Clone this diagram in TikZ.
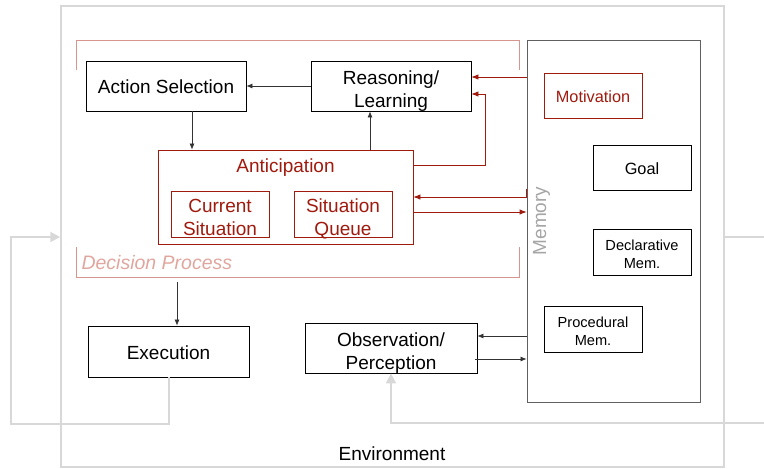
\documentclass[tikz,border=0pt]{standalone}
\usepackage{fontspec}
\setmainfont{Liberation Sans}
\usetikzlibrary{arrows.meta,shadows}

\definecolor{deepred}{RGB}{160,26,14}
\definecolor{salmon}{RGB}{214,150,142}
\definecolor{salmontext}{RGB}{224,166,158}
\definecolor{envgray}{RGB}{216,216,216}
\definecolor{memgray}{RGB}{96,96,96}
\definecolor{labelgray}{RGB}{165,165,165}

\tikzset{
  box/.style={draw=black, line width=0.8pt, fill=white, align=center,
    inner sep=0pt, font=\fontsize{19}{23}\selectfont,
    text height=15.5pt, text depth=0pt,
    drop shadow={shadow xshift=1.2pt, shadow yshift=-1.2pt, opacity=0.25}},
  twoline/.style={text height=42pt, text depth=0pt},
  redbox/.style={box, draw=deepred, text=deepred},
  smallbox/.style={box, font=\fontsize{14.6}{18}\selectfont,
    text height=33pt, text depth=0pt},
  midbox/.style={box, font=\fontsize{16.3}{20}\selectfont,
    text height=13.5pt, text depth=0pt},
  arr/.style={draw=black!80, line width=0.7pt, -{Latex[length=6pt,width=5pt]}},
  redarr/.style={draw=deepred, line width=0.8pt, -{Latex[length=7pt,width=5.5pt]}},
  envline/.style={draw=envgray, line width=2pt},
  envarr/.style={envline, -{Triangle[length=10pt,width=10pt]}},
  bracket/.style={draw=salmon, line width=1pt},
}

\begin{document}
\begin{tikzpicture}[x=1pt, y=-1pt]
\useasboundingbox (0,0) rectangle (764,469);

% environment frame
\node[draw=envgray, line width=1.5pt, minimum width=663pt, minimum height=461pt, inner sep=0pt]
  (env) at (392.5,236.5) {};
\node[font=\fontsize{19}{23}\selectfont] (envlabel) at (392,454) {Environment};

% decision process bracket
\draw[bracket] (76,70) -- (76,40) -- (519,40) -- (519,70);
\draw[bracket] (76,247) -- (76,277) -- (519,277) -- (519,247);
\node[anchor=west, text=salmontext, font=\fontsize{19.5}{23}\selectfont\itshape]
  (dplabel) at (78,263) {Decision Process};

% decision components
\node[box, minimum width=160pt, minimum height=50pt] (act) at (166,86) {Action Selection};
\node[box, twoline, minimum width=160pt, minimum height=50pt] (reas) at (391,86) {Reasoning/\\Learning};
\node[redbox, minimum width=255pt, minimum height=94pt] (antic) at (285.5,197) {};
\node[text=deepred, font=\fontsize{19}{23}\selectfont] (anticlabel) at (285.5,168) {Anticipation};
\node[redbox, twoline, minimum width=98pt, minimum height=46pt] (cur) at (220,214) {Current\\Situation};
\node[redbox, twoline, minimum width=98pt, minimum height=46pt] (que) at (343,214) {Situation\\Queue};

% memory
\node[box, draw=memgray, minimum width=173pt, minimum height=362pt] (mem) at (613.5,221) {};
\node[rotate=90, text=labelgray, font=\fontsize{19}{23}\selectfont] (memlabel) at (541.5,221) {Memory};
\node[midbox, draw=deepred, text=deepred, minimum width=98pt, minimum height=45pt] (mot) at (593,95.5) {Motivation};
\node[midbox, minimum width=98pt, minimum height=45pt] (goal) at (642,167.5) {Goal};
\node[smallbox, minimum width=98pt, minimum height=46pt] (decl) at (642,252) {Declarative\\Mem.};
\node[smallbox, minimum width=98pt, minimum height=46pt] (proc) at (593,329) {Procedural\\Mem.};

% perception and action
\node[box, twoline, minimum width=172pt, minimum height=50pt] (obs) at (391,348) {Observation/\\Perception};
\node[box, minimum width=161pt, minimum height=51pt] (exec) at (168.5,351.5) {Execution};

% black connectors
\draw[arr] (reas.west) -- (act.east);
\draw[arr] ([xshift=26pt]act.south) -- ([xshift=26pt]act.south |- antic.north);
\draw[arr] ([xshift=-21pt]reas.south |- antic.north) -- ([xshift=-21pt]reas.south);
\coordinate (dpout) at (177,282);
\draw[arr] (dpout) -- (dpout |- exec.north);
\draw[arr] (mem.west |- 0,336) -- (obs.east |- 0,336);
\draw[arr] ([xshift=-2pt]obs.east |- 0,359) -- (mem.west |- 0,359);

% red connectors
\draw[redarr] (mem.west |- 0,77) -- (reas.east |- 0,77);
\draw[redarr] (antic.east |- 0,165) -| (485,94) -- (reas.east |- 0,94);
\draw[redarr] (mem.west |- 0,189) -- (mem.west |- 0,197) -- (antic.east |- 0,197);
\draw[redarr] (antic.east |- 0,212) -- (mem.west |- 0,212);

% environment feedback loops
\draw[envarr] ([xshift=0.5pt]exec.south) -- ++(0,47) -| (11,237) -- (env.west |- 0,237);
\coordinate (edgeA) at (764,237);
\coordinate (edgeB) at (764,423);
\draw[envline] (env.east |- edgeA) -- (edgeA);
\draw[envarr] (edgeB) -| (obs.south);
\end{tikzpicture}
\end{document}
